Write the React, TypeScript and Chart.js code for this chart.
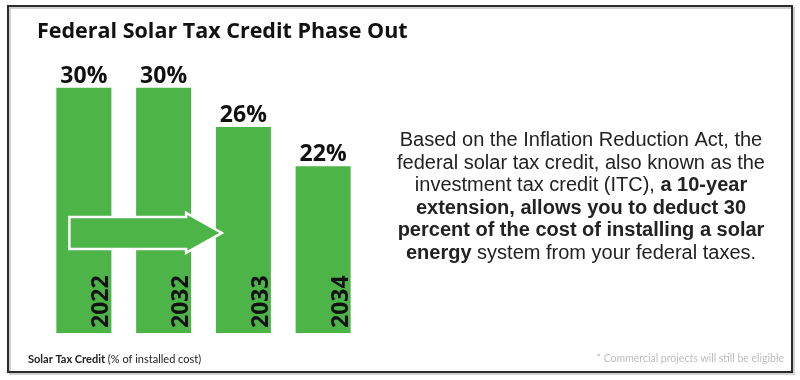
import React, { useEffect, useRef } from "react";
import { Chart, registerables } from "chart.js";

Chart.register(...registerables);

const years = ["2022", "2032", "2033", "2034"];
const credits = [30, 30, 26, 22];
const percentLabels = ["30%", "30%", "26%", "22%"];
const titleText = "Federal Solar Tax Credit Phase Out";
const axisNoteBold = "Solar Tax Credit";
const axisNoteRegular = " (% of installed cost)";
const footnote = "* Commercial projects will still be eligible";
// each line is a list of [text, bold]
const bodyLines: [string, boolean][][] = [
  [["Based on the Inflation Reduction Act, the", false]],
  [["federal solar tax credit, also known as the", false]],
  [["investment tax credit (ITC), ", false], ["a 10-year", true]],
  [["extension, allows you to deduct 30", true]],
  [["percent of the cost of installing a solar", true]],
  [["energy", true], [" system from your federal taxes.", false]],
];
const arrowLevel = 15.2;

const GREEN = "#4db548";

const decorPlugin = {
  id: "decor",
  afterDatasetsDraw(chart: any) {
    const ctx: CanvasRenderingContext2D = chart.ctx;
    const meta = chart.getDatasetMeta(0);
    const bars = meta.data;
    const yScale = chart.scales.y;
    const bottom = chart.chartArea.bottom;
    ctx.save();

    // frame
    ctx.strokeStyle = "rgba(0,0,0,0.18)";
    ctx.lineWidth = 2;
    ctx.strokeRect(10, 8, 784, 366);
    ctx.strokeStyle = "#2b2b2b";
    ctx.lineWidth = 2;
    ctx.strokeRect(8, 6, 784, 366);

    // title
    ctx.fillStyle = "#111";
    ctx.font = "bold 21.5px 'Open Sans'";
    ctx.textAlign = "left";
    ctx.textBaseline = "alphabetic";
    ctx.fillText(titleText, 37, 38);

    // arrow
    const b0 = bars[0], b1 = bars[1], b2 = bars[2];
    const w = b0.width;
    const xl = b0.x - w / 2 + 13;
    const xm = b1.x + w / 2 - 5;
    const xt = b2.x - w / 2 + 6;
    const yc = yScale.getPixelForValue(arrowLevel);
    ctx.beginPath();
    ctx.moveTo(xl, yc - 16);
    ctx.lineTo(xm, yc - 16);
    ctx.lineTo(xm, yc - 20);
    ctx.lineTo(xt, yc);
    ctx.lineTo(xm, yc + 20);
    ctx.lineTo(xm, yc + 16);
    ctx.lineTo(xl, yc + 16);
    ctx.closePath();
    ctx.fillStyle = GREEN;
    ctx.fill();
    ctx.strokeStyle = "#ffffff";
    ctx.lineWidth = 2.5;
    ctx.lineJoin = "miter";
    ctx.stroke();

    // labels on bars
    bars.forEach((b: any, i: number) => {
      ctx.fillStyle = "#111";
      ctx.font = "bold 23px 'Open Sans'";
      ctx.textAlign = "center";
      ctx.textBaseline = "alphabetic";
      ctx.fillText(percentLabels[i], b.x, b.y - 5);

      ctx.save();
      ctx.translate(b.x + b.width / 2 - 3, bottom - 5);
      ctx.rotate(-Math.PI / 2);
      ctx.textAlign = "left";
      ctx.font = "bold 23px 'Open Sans'";
      ctx.fillText(years[i], 0, 0);
      ctx.restore();
    });

    // body text
    const cx = 581;
    const lh = 22.6;
    const y0 = 146;
    ctx.fillStyle = "#222";
    ctx.textAlign = "left";
    bodyLines.forEach((segs, li) => {
      let total = 0;
      const widths = segs.map(([t, bold]) => {
        ctx.font = (bold ? "bold " : "") + "20px 'Liberation Sans', Arial";
        const m = ctx.measureText(t).width;
        total += m;
        return m;
      });
      let x = cx - total / 2;
      segs.forEach(([t, bold], si) => {
        ctx.font = (bold ? "bold " : "") + "20px 'Liberation Sans', Arial";
        ctx.fillText(t, x, y0 + li * lh);
        x += widths[si];
      });
    });

    // bottom notes
    ctx.fillStyle = "#222";
    ctx.font = "bold 11px Lato";
    ctx.fillText(axisNoteBold, 28, 363);
    const wb = ctx.measureText(axisNoteBold).width;
    ctx.font = "11px Lato";
    ctx.fillText(axisNoteRegular, 28 + wb, 363);

    ctx.fillStyle = "#bdbdbd";
    ctx.font = "10.5px Lato";
    ctx.textAlign = "right";
    ctx.fillText(footnote, 784, 362);

    ctx.restore();
  },
};

export default function App() {
  const ref = useRef<HTMLCanvasElement | null>(null);
  useEffect(() => {
    if (!ref.current) return;
    const chart = new Chart(ref.current, {
      type: "bar",
      data: {
        labels: years,
        datasets: [
          {
            data: credits,
            backgroundColor: GREEN,
            borderWidth: 0,
            barPercentage: 1,
            categoryPercentage: 0.69,
          },
        ],
      },
      options: {
        animation: false,
        responsive: true,
        maintainAspectRatio: false,
        layout: { padding: { left: 44, right: 437, top: 68, bottom: 47 } },
        plugins: {
          legend: { display: false },
          title: { display: false },
          tooltip: { enabled: false },
        },
        scales: {
          x: { display: false },
          y: { display: false, min: 5, max: 32 },
        },
      },
      plugins: [decorPlugin],
    });
    return () => chart.destroy();
  }, []);
  return (
    <div
      style={{
        position: "fixed",
        left: 0,
        top: 0,
        width: 800,
        height: 380,
        background: "#ffffff",
      }}
    >
      <canvas ref={ref} />
    </div>
  );
}
